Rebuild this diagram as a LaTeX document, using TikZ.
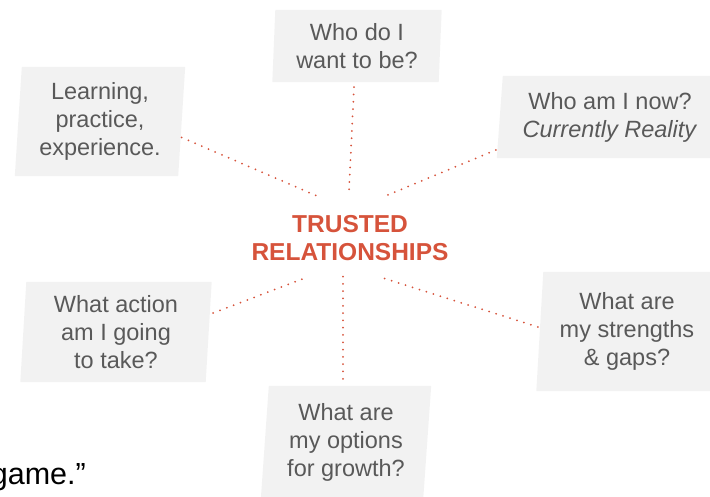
\documentclass[tikz,border=0pt]{standalone}
\usepackage{fontspec}
\setmainfont{Liberation Sans}
\usepackage{xcolor}
\usetikzlibrary{backgrounds}
\definecolor{rel}{HTML}{D6533B}
\definecolor{txt}{HTML}{595959}
\definecolor{boxfill}{HTML}{F2F2F2}

\begin{document}
\begin{tikzpicture}[x=1pt,y=1pt,
	q/.style={text=txt,align=center,inner sep=0,font=\fontsize{23.5}{28}\selectfont},
	link/.style={rel,line width=2pt,line cap=round,dash pattern=on 0pt off 7.3pt}]
	\useasboundingbox (0,0) rectangle (710,497);

	% (hub)
	\node[font=\bfseries\fontsize{24.5}{28}\selectfont,text=rel,align=center,inner sep=0] (hub) at (350,259) {TRUSTED\\RELATIONSHIPS};

	% (questions)
	\node[q,minimum width=163,minimum height=109] (learn) at (100,375.5) {Learning,\\practice,\\experience.};
	\node[q,minimum width=166,minimum height=72] (want) at (357,451) {Who do I\\want to be?};
	\node[q,minimum width=220,minimum height=82] (now) at (610,380) {Who am I now?\\\textit{Currently Reality}};
	\node[q,minimum width=185,minimum height=100] (act) at (116,165) {What action\\am I going\\to take?};
	\node[q,minimum width=162,minimum height=113] (grow) at (346,54.5) {What are\\my options\\for growth?};
	\node[q,minimum width=174,minimum height=119] (gaps) at (627,165.5) {What are\\my strengths\\\& gaps?};

	\begin{scope}[on background layer]
	\foreach \n/\s in {learn/3.5,want/1.5,now/3,act/3,grow/4,gaps/3.5}
		\fill[boxfill] ([xshift=-\s]\n.south west) -- ([xshift=-\s]\n.south east) -- ([xshift=\s]\n.north east) -- ([xshift=\s]\n.north west) -- cycle;
	\end{scope}

	\draw[link] ([yshift=-16]learn.east) -- ([shift={(-33,42)}]hub.center);
	\draw[link] ([xshift=-3,yshift=-5]want.south) -- ([shift={(-1,47)}]hub.center);
	\draw[link] ([xshift=-4,yshift=-33]now.west) -- ([shift={(33,41)}]hub.center);
	\draw[link] ([xshift=4.5,yshift=19]act.east) -- ([shift={(-45,-40)}]hub.center);
	\draw[link] ([xshift=-3,yshift=7]grow.north) -- ([shift={(-7,-36)}]hub.center);
	\draw[link] ([xshift=-2,yshift=4.5]gaps.west) -- ([shift={(33,-40)}]hub.center);

	\node[anchor=base east,inner sep=0,font=\fontsize{30.5}{36}\selectfont] (quote) at (86,12) {game.”};

\end{tikzpicture}
\end{document}
